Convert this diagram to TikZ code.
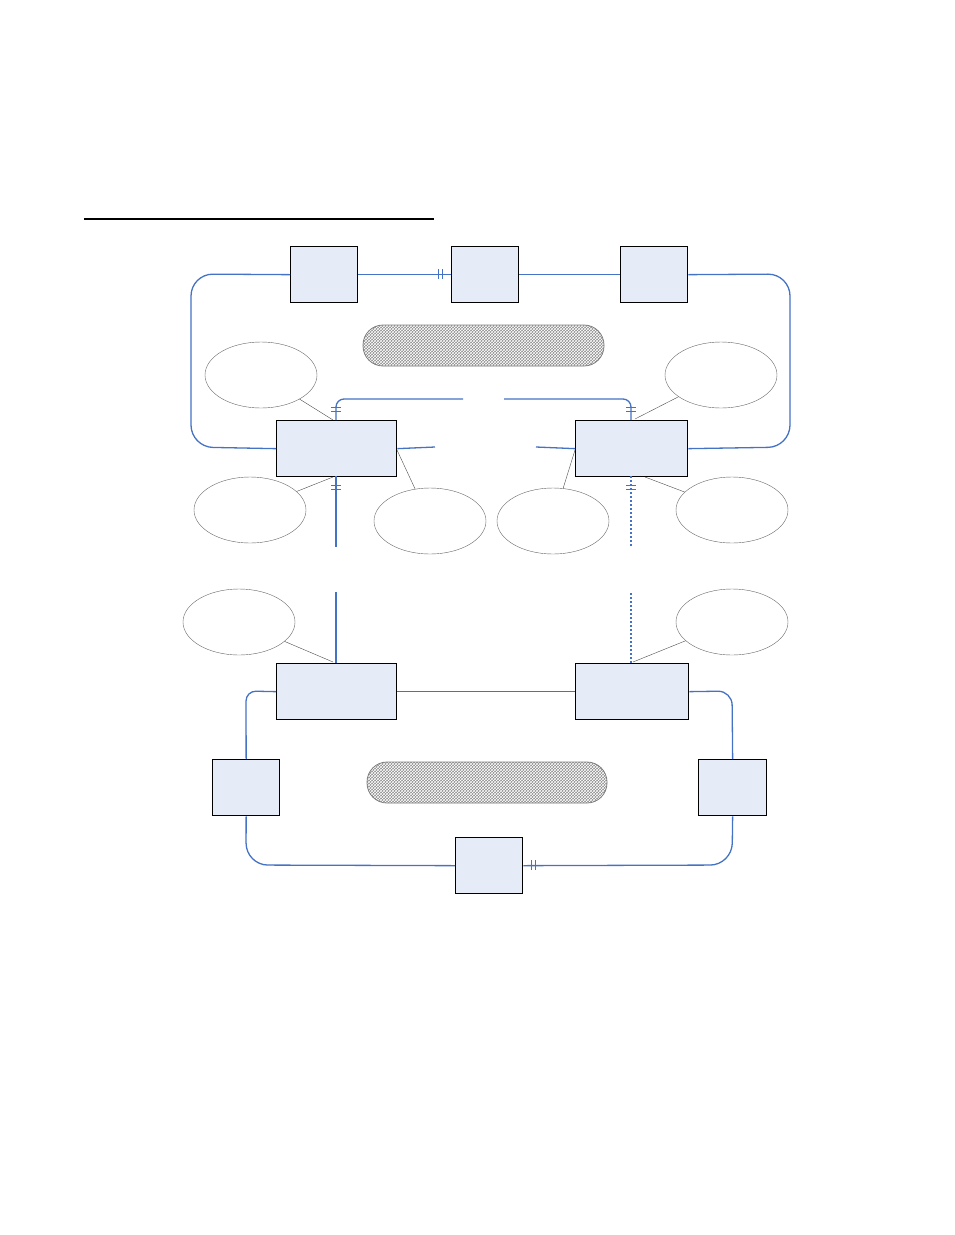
\documentclass[tikz,border=0pt]{standalone}
\usetikzlibrary{patterns,shapes.geometric}
\definecolor{bl}{HTML}{4472C4}
\definecolor{bx}{HTML}{E6ECF7}
\begin{document}
\begin{tikzpicture}[x=1pt,y=-1pt,
 box/.style={draw=black,line width=1.3pt,fill=bx,inner sep=0,anchor=north west},
 ell/.style={draw=black!60,line width=0.4pt,ellipse,minimum width=112pt,minimum height=66pt,inner sep=0},
 conn/.style={draw=bl,line width=1.3pt,rounded corners=22pt},
 thin/.style={draw=black!70,line width=0.4pt},
 pill/.style={draw=black!50,line width=0.8pt,rounded corners=20pt,preaction={fill=black!45},pattern=crosshatch,pattern color=white}]
\useasboundingbox (0,0) rectangle (954,1235);
\draw[line width=1.5pt] (84,219) -- (434,219);
% boxes
\node[box,minimum width=67pt,minimum height=56pt] (A) at (290,246) {};
\node[box,minimum width=67pt,minimum height=56pt] (B) at (451,246) {};
\node[box,minimum width=67pt,minimum height=56pt] (C) at (620,246) {};
\node[box,minimum width=120pt,minimum height=56pt] (L) at (276,420) {};
\node[box,minimum width=112pt,minimum height=56pt] (R) at (575,420) {};
\node[box,minimum width=120pt,minimum height=56pt] (LL) at (276,663) {};
\node[box,minimum width=113pt,minimum height=56pt] (LR) at (575,663) {};
\node[box,minimum width=67pt,minimum height=56pt] (SL) at (212,759) {};
\node[box,minimum width=68pt,minimum height=56pt] (SR) at (698,759) {};
\node[box,minimum width=67pt,minimum height=56pt] (SB) at (455,837) {};
% pills
\path[pill] (363,325) rectangle (604,366);
\path[pill] (367,762) rectangle (607,803);
% ellipses
\node[ell] (e1) at (261,375) {};
\node[ell] (e2) at (721,375) {};
\node[ell] (e3) at (250,510) {};
\node[ell] (e4) at (430,521) {};
\node[ell] (e5) at (553,521) {};
\node[ell] (e6) at (732,510) {};
\node[ell] (e7) at (239,622) {};
\node[ell] (e8) at (732,622) {};
% coordinates for free ends
\coordinate (t1) at (463,399); \coordinate (t2) at (504,399);
\coordinate (m1) at (435,447); \coordinate (m2) at (536,447);
\coordinate (d1) at (336,547); \coordinate (d2) at (336,592);
\coordinate (d3) at (631,547); \coordinate (d4) at (631,592);
% blue connectors
\draw[conn] (A.west) -- (191,274) -- (191,447) -- (L.west);
\draw[conn] (C.east) -- (790,274) -- (790,447) -- (R.east);
\draw[conn] (A.east) -- (B.west);
\draw[conn] (B.east) -- (C.west);
\draw[conn,rounded corners=8pt] (336,420) -- (336,399) -- (t1);
\draw[conn,rounded corners=8pt] (631,420) -- (631,399) -- (t2);
\draw[conn] (L.east) -- (m1);
\draw[conn] (R.west) -- (m2);
\draw[conn] (336,476) -- (d1);
\draw[conn] (336,663) -- (d2);
\draw[conn,dash pattern=on 2pt off 2pt] (631,476) -- (d3);
\draw[conn,dash pattern=on 2pt off 2pt] (631,663) -- (d4);
\draw[conn] (LL.east) -- (LR.west);
\draw[conn,rounded corners=10pt] (LL.west) -- (246,691) -- (SL.north);
\draw[conn] (SL.south) -- (246,865) -- (SB.west);
\draw[conn] (SB.east) -- (732,865) -- (SR.south);
\draw[conn,rounded corners=14pt] (SR.north) -- (732,691) -- (LR.east);
% ticks
\foreach \x in {438,442} \draw[bl,line width=1pt] (\x,269) -- (\x,279);
\foreach \x in {531,535} \draw[bl,line width=1pt] (\x,860) -- (\x,870);
\foreach \y in {407,411} {\draw[bl,line width=1pt] (331,\y) -- (341,\y); \draw[bl,line width=1pt] (626,\y) -- (636,\y);}
\foreach \y in {485,489} {\draw[bl,line width=1pt] (331,\y) -- (341,\y); \draw[bl,line width=1pt] (626,\y) -- (636,\y);}
% thin leaders
\draw[thin] (e1) -- (333,420);
\draw[thin] (e2) -- (635,419);
\draw[thin] (e3) -- (333,477);
\draw[thin] (e4) -- (397,450);
\draw[thin] (e5) -- (575,450);
\draw[thin] (e6) -- (645,477);
\draw[thin] (e7) -- (333,662);
\draw[thin] (e8) -- (633,662);
\end{tikzpicture}
\end{document}
